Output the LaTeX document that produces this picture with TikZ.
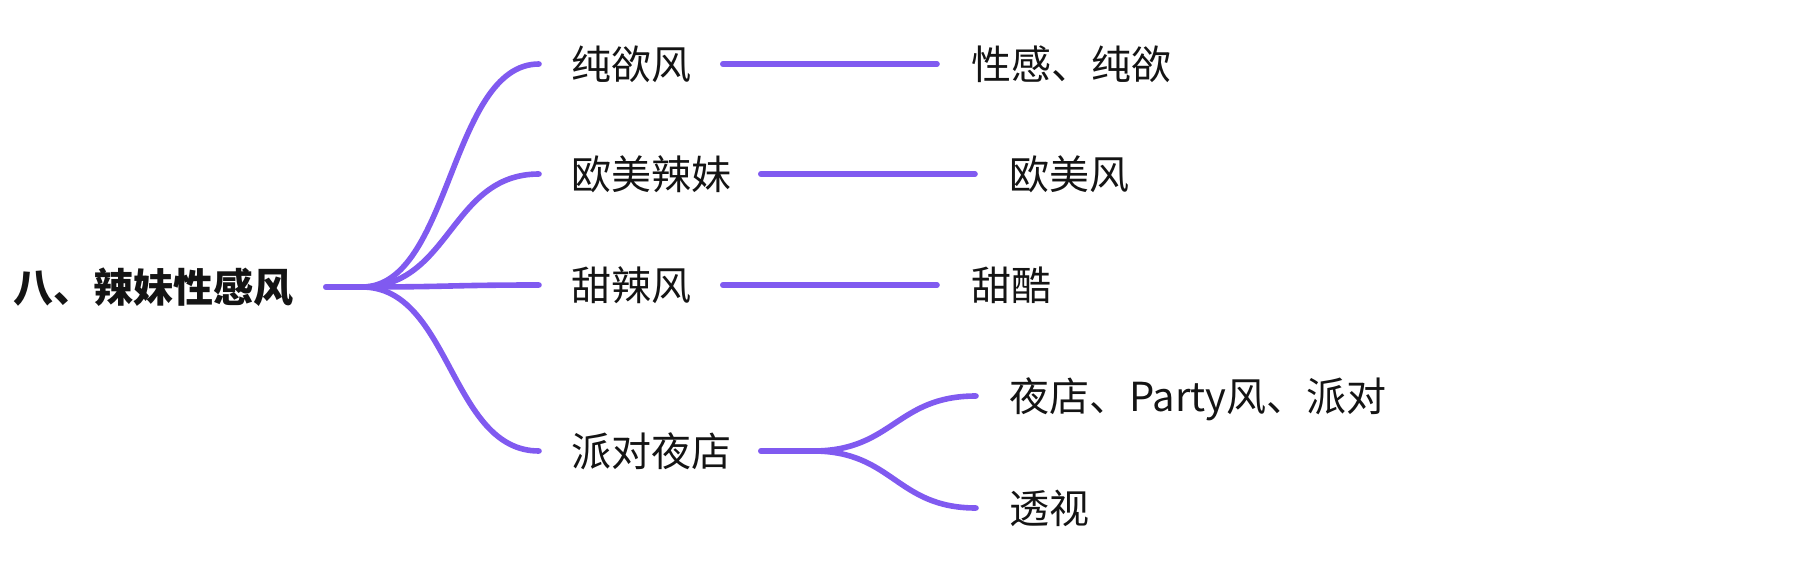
\documentclass[tikz,border=0pt]{standalone}
\usepackage{fontspec}
\setmainfont{Noto Sans CJK SC}
\usepackage{xcolor}
\usepackage{tikz}
\definecolor{BranchPurple}{RGB}{128,90,240}
\definecolor{TopicText}{RGB}{20,20,20}

\begin{document}
\begin{tikzpicture}[x=0.5pt,y=-0.5pt,
    topic/.style={anchor=west,inner sep=0pt,text=TopicText,
                  font=\fontsize{20}{24}\selectfont,
                  text height=17.6pt,text depth=2.4pt},
    branch/.style={draw=BranchPurple,line width=2.8pt,line cap=round}]
  \useasboundingbox (0,0) rectangle (1810,567);

  % root and main branches
  \node[topic,font=\fontsize{20}{24}\selectfont\bfseries] (root) at (13,287) {八、辣妹性感风};
  \node[topic] (chunyu) at (571,64) {纯欲风};
  \node[topic] (oumei) at (571,174) {欧美辣妹};
  \node[topic] (tianla) at (571,285) {甜辣风};
  \node[topic] (paidui) at (571,451) {派对夜店};

  % second level
  \node[topic] (xinggan) at (971,64) {性感、纯欲};
  \node[topic] (oumeifeng) at (1009,174) {欧美风};
  \node[topic] (tianku) at (971,285) {甜酷};
  \node[topic] (yedian) at (1009,396) {夜店、Party风、派对};
  \node[topic] (toushi) at (1009,508) {透视};

  \coordinate (rootj) at (362,287);
  \coordinate (paiduij) at (813,451);

  \draw[branch] ([xshift=16pt]root.east) -- (rootj);
  \draw[branch] (rootj) .. controls +(89,0) and +(-89,0) .. ([xshift=-16pt]chunyu.west);
  \draw[branch] (rootj) .. controls +(89,0) and +(-89,0) .. ([xshift=-16pt]oumei.west);
  \draw[branch] (rootj) .. controls +(89,0) and +(-89,0) .. ([xshift=-16pt]tianla.west);
  \draw[branch] (rootj) .. controls +(89,0) and +(-89,0) .. ([xshift=-16pt]paidui.west);

  \draw[branch] ([xshift=15.5pt]chunyu.east) -- ([xshift=-17pt]xinggan.west);
  \draw[branch] ([xshift=14.5pt]oumei.east) -- ([xshift=-17pt]oumeifeng.west);
  \draw[branch] ([xshift=15.5pt]tianla.east) -- ([xshift=-17pt]tianku.west);

  \draw[branch] ([xshift=14.5pt]paidui.east) -- (paiduij);
  \draw[branch] (paiduij) .. controls +(80,0) and +(-80,0) .. ([xshift=-16.5pt]yedian.west);
  \draw[branch] (paiduij) .. controls +(80,0) and +(-80,0) .. ([xshift=-16.5pt]toushi.west);
\end{tikzpicture}
\end{document}
